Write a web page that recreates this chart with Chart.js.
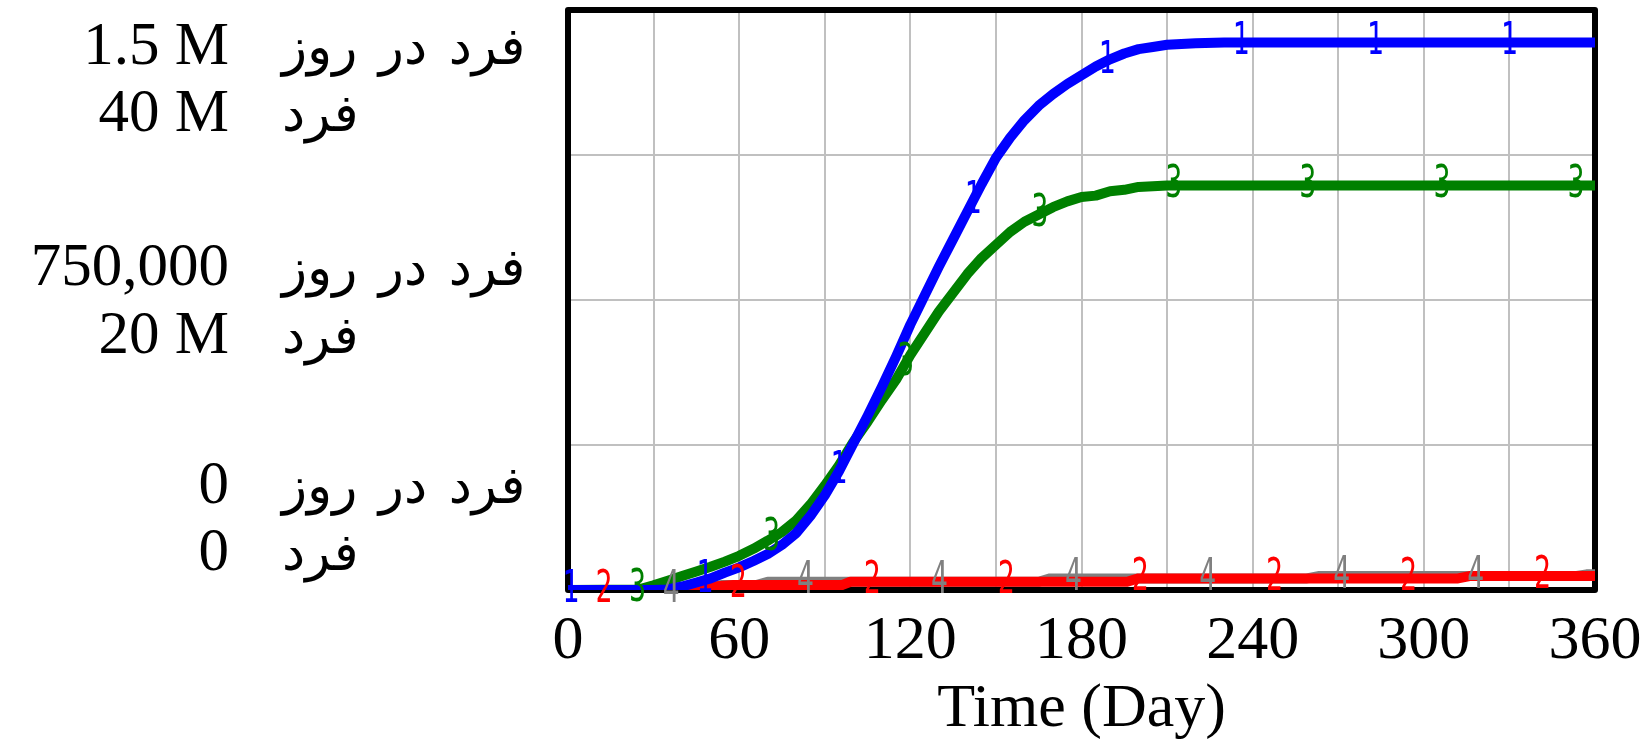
<!DOCTYPE html>
<html>
<head>
<meta charset="utf-8">
<title>Time (Day)</title>
<script src="https://cdn.jsdelivr.net/npm/chart.js@4.4.1/dist/chart.umd.min.js"></script>
<style>
    html, body { margin: 0; padding: 0; background: #fff; }
    canvas { display: block; }
</style>
</head>
<body>
<canvas id="simChart" width="1650" height="744"></canvas>
<script>
// Simulation output (values in millions)
const smoothDays = [0, 25, 30, 35, 40, 45, 50, 55, 60, 65, 70, 75, 80, 85, 90, 95, 100, 105, 110, 115, 120, 125, 130, 135, 140, 145, 150, 155, 160, 165, 170, 175, 180, 185, 190, 195, 200, 205, 210, 220, 230, 240, 360];
const line1Values = [0, 0, 0, 0.04, 0.24, 0.52, 0.8, 1.2, 1.56, 2.0, 2.48, 3.12, 3.92, 5.12, 6.52, 8.2, 10.1, 12.0, 14.0, 16.1, 18.3, 20.3, 22.3, 24.2, 26.1, 28.0, 29.8, 31.2, 32.4, 33.4, 34.2, 34.9, 35.5, 36.1, 36.6, 37.0, 37.3, 37.45, 37.6, 37.7, 37.76, 37.76, 37.76];
const line3Values = [0, 0.04, 0.32, 0.64, 0.96, 1.28, 1.6, 1.96, 2.36, 2.84, 3.4, 4.0, 4.8, 5.9, 7.2, 8.6, 10.2, 11.6, 13.1, 14.5, 16.2, 17.7, 19.2, 20.5, 21.8, 22.9, 23.8, 24.7, 25.4, 25.9, 26.4, 26.8, 27.1, 27.2, 27.5, 27.6, 27.8, 27.85, 27.9, 27.9, 27.9, 27.9, 27.9];

const line2Days = [0, 38, 44, 50, 58, 96, 99, 196, 200, 312, 316, 360];
const line2Values = [0, 0, 0.1, 0.22, 0.34, 0.34, 0.57, 0.57, 0.8, 0.8, 0.96, 0.96];

const line4Days = [0, 36, 44, 54, 66, 70, 165, 169, 259, 263, 353, 357, 360];
const line4Values = [0, 0, 0.12, 0.34, 0.34, 0.57, 0.57, 0.8, 0.8, 0.96, 0.96, 1.08, 1.08];

// left axis: two stacked scales sharing the same gridlines
const peopleTicks = [0, 20, 40];
const peopleTickLabels = ['0', '20 M', '40 M'];
const rateTicks = [0, 0.75, 1.5];
const rateTickLabels = ['0', '750,000', '1.5 M'];
const peopleUnit = 'فرد';
const rateUnit = 'فرد در روز';

const SERIF = '"Liberation Serif", "Times New Roman", serif';

function toPoints(days, values) {
    return days.map((d, i) => ({ x: d, y: values[i] }));
}

function valueAt(points, day) {
    for (let i = 1; i < points.length; i++) {
        if (day <= points[i].x) {
            const a = points[i - 1], b = points[i];
            if (b.x === a.x) return b.y;
            return a.y + (b.y - a.y) * (day - a.x) / (b.x - a.x);
        }
    }
    return points[points.length - 1].y;
}

// black frame under the lines
const framePlugin = {
    id: 'frame',
    beforeDatasetsDraw(chart) {
        const { ctx, chartArea: a } = chart;
        ctx.save();
        ctx.strokeStyle = '#000';
        ctx.lineWidth = 6;
        ctx.lineJoin = 'round';
        ctx.strokeRect(a.left, a.top, a.right - a.left, a.bottom - a.top);
        ctx.restore();
    }
};

// numbered markers riding along each line (tall, narrow digits)
const markerPlugin = {
    id: 'lineMarkers',
    afterDatasetsDraw(chart) {
        const { ctx } = chart;
        const xScale = chart.scales.x;
        chart.data.datasets.forEach((ds) => {
            const yScale = chart.scales[ds.yAxisID];
            for (let day = ds.markerStart; day <= 360; day += 47) {
                const px = xScale.getPixelForValue(day);
                const py = yScale.getPixelForValue(valueAt(ds.data, day));
                ctx.save();
                ctx.translate(px, py);
                ctx.scale(0.9, 1.45);
                ctx.font = '31px "DejaVu Sans Mono", monospace';
                ctx.textAlign = 'center';
                ctx.textBaseline = 'middle';
                ctx.fillStyle = ds.borderColor;
                ctx.fillText(ds.markerText, 0, 0);
                ctx.restore();
            }
        });
    }
};

// two-line labels for the left scales
const leftLabelsPlugin = {
    id: 'leftLabels',
    afterDraw(chart) {
        const { ctx } = chart;
        const yPeople = chart.scales.yPeople;
        const yRate = chart.scales.yRate;
        const offsets = [[-87, -20], [-15, 53], [54, 121]];
        ctx.save();
        ctx.fillStyle = '#000';
        for (let i = 0; i < peopleTicks.length; i++) {
            const rateY = yRate.getPixelForValue(rateTicks[i]) + offsets[i][0];
            const peopleY = yPeople.getPixelForValue(peopleTicks[i]) + offsets[i][1];
            ctx.textAlign = 'right';
            ctx.textBaseline = 'alphabetic';
            ctx.font = '61px ' + SERIF;
            ctx.fillText(rateTickLabels[i], 229, rateY);
            ctx.fillText(peopleTickLabels[i], 229, peopleY);
            ctx.textAlign = 'left';
            ctx.font = '52px "DejaVu Sans", sans-serif';
            ctx.wordSpacing = '5px';
            ctx.fillText(rateUnit, 282, rateY);
            ctx.fillText(peopleUnit, 282, peopleY);
            ctx.wordSpacing = '0px';
        }
        ctx.restore();
    }
};

const gridStyle = { color: '#c0c0c0', lineWidth: 2, drawTicks: false };

const lineStyle = {
    borderWidth: 10,
    pointRadius: 0,
    tension: 0,
    fill: false,
    borderJoinStyle: 'round',
    yAxisID: 'yPeople'
};

new Chart(document.getElementById('simChart'), {
    type: 'line',
    data: {
        datasets: [
            { ...lineStyle, label: '1', markerText: '1', markerStart: 0.9, borderColor: '#0000ff', data: toPoints(smoothDays, line1Values) },
            { ...lineStyle, label: '2', markerText: '2', markerStart: 12.6, borderColor: '#ff0000', data: toPoints(line2Days, line2Values) },
            { ...lineStyle, label: '3', markerText: '3', markerStart: 24.4, borderColor: '#008000', data: toPoints(smoothDays, line3Values) },
            { ...lineStyle, label: '4', markerText: '4', markerStart: 36.2, borderColor: '#808080', data: toPoints(line4Days, line4Values) }
        ]
    },
    options: {
        responsive: false,
        animation: false,
        events: [],
        layout: { padding: { left: 568, right: 55, top: 10, bottom: 0 } },
        plugins: {
            legend: { display: false },
            tooltip: { enabled: false }
        },
        scales: {
            x: {
                type: 'linear',
                min: 0,
                max: 360,
                grid: gridStyle,
                border: { display: false },
                ticks: {
                    stepSize: 30,
                    padding: 15,
                    color: '#000',
                    font: { family: SERIF, size: 62 },
                    maxRotation: 0,
                    autoSkip: false,
                    callback: (v) => (v % 60 === 0 ? String(v) : '')
                },
                title: {
                    display: true,
                    text: 'Time (Day)',
                    color: '#000',
                    font: { family: SERIF, size: 62, lineHeight: 1.1 },
                    padding: 0
                },
                afterFit: (scale) => {
                    // keep the end labels from squeezing the plot area
                    scale.height = 154;
                    scale.paddingLeft = 0;
                    scale.paddingRight = 0;
                }
            },
            yPeople: {
                type: 'linear',
                position: 'left',
                min: 0,
                max: 40,
                grid: gridStyle,
                border: { display: false },
                ticks: { display: false, stepSize: 10 },
                afterFit: (scale) => { scale.width = 0; }
            },
            yRate: {
                type: 'linear',
                position: 'left',
                min: 0,
                max: 1.5,
                display: false
            }
        }
    },
    plugins: [framePlugin, markerPlugin, leftLabelsPlugin]
});
</script>
</body>
</html>
